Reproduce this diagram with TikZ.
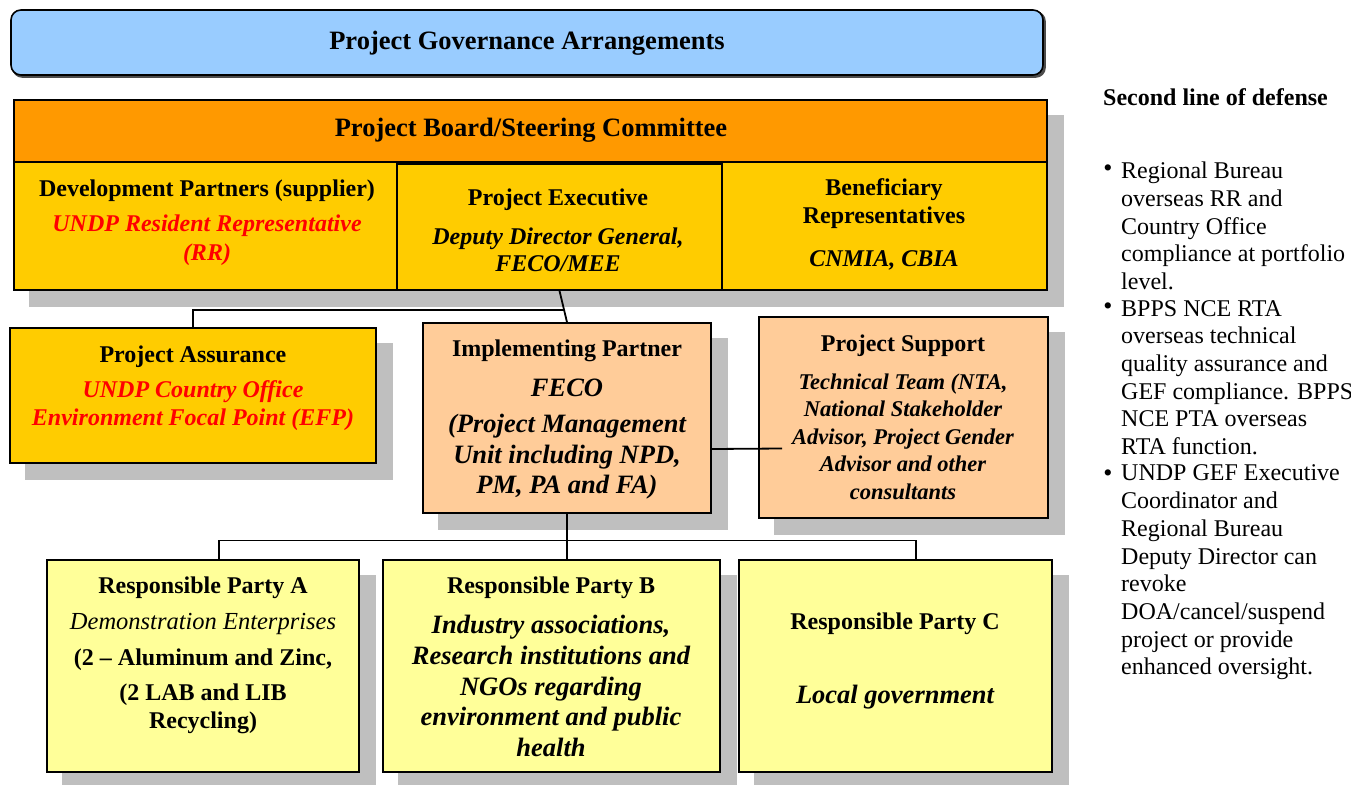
\documentclass[tikz,border=0pt]{standalone}
\usepackage{fontspec}
\setmainfont{Liberation Serif}
\usetikzlibrary{calc}
\definecolor{tblue}{HTML}{99CCFF}
\definecolor{borange}{HTML}{FF9900}
\definecolor{gold}{HTML}{FFCC00}
\definecolor{peach}{HTML}{FFCC99}
\definecolor{lyellow}{HTML}{FFFF99}
\definecolor{shadowgray}{HTML}{BFBFBF}
\definecolor{redtxt}{HTML}{FF0000}
\pgfdeclarelayer{bg}
\pgfsetlayers{bg,main}
\begin{document}
\begin{tikzpicture}[x=1pt,y=-1pt,
  box/.style={draw=black, line width=1.6pt, inner sep=0pt},
  conn/.style={draw=black, line width=1.8pt},
  txt/.style={inner sep=0pt, yshift=-2.5pt},
  hd/.style={txt, font=\fontsize{24}{28}\selectfont\bfseries, align=center},
  bi/.style={txt, font=\fontsize{24}{28}\selectfont\bfseries\itshape, align=center},
  rbi/.style={bi, text=redtxt},
  plain/.style={txt, font=\fontsize{24}{27.7}\selectfont, align=left, anchor=west},
  bul/.style={txt, font=\fontsize{26}{28}\selectfont},
  boxshadow/.style={fill=shadowgray},
]
\useasboundingbox (0,0) rectangle (1351,784);

% ---- boxes
\node[box, fill=tblue, rounded corners=10pt, minimum width=1032pt, minimum height=65pt] (title) at (527,42.5) {};
\node[box, fill=borange, minimum width=1033pt, minimum height=62pt] (board) at (530.5,131) {};
\node[box, fill=gold, minimum width=383pt, minimum height=128pt] (dev) at (205.5,226) {};
\node[box, fill=gold, minimum width=325pt, minimum height=128pt] (ben) at (884.5,226) {};
\node[box, fill=gold, minimum width=325pt, minimum height=126pt] (exec) at (559.5,227) {};
\node[box, fill=gold, minimum width=366pt, minimum height=135pt] (assur) at (193,395.5) {};
\node[box, fill=peach, minimum width=288pt, minimum height=190pt] (ip) at (567,418) {};
\node[box, fill=peach, minimum width=289pt, minimum height=201pt] (ps) at (903.5,417.5) {};
\node[box, fill=lyellow, minimum width=312pt, minimum height=212pt] (rpa) at (203,666) {};
\node[box, fill=lyellow, minimum width=337pt, minimum height=212pt] (rpb) at (551.5,666) {};
\node[box, fill=lyellow, minimum width=313pt, minimum height=212pt] (rpc) at (895.5,666) {};

% ---- background and shadows
\begin{pgfonlayer}{bg}
  \fill[white] (0,0) rectangle (1351,784);
  \fill[black!70, rounded corners=10pt] ([shift={(2,2)}]title.north west) rectangle ([shift={(2,2)}]title.south east);
  \foreach \n in {board,dev,ben,exec,assur,ip,ps,rpa,rpb,rpc}{
    \path[boxshadow] ([shift={(16,16)}]\n.north west) rectangle ([shift={(16,16)}]\n.south east);
  }
\end{pgfonlayer}

% ---- texts
\node[txt, font=\fontsize{26.5}{30}\selectfont\bfseries] (ttitle) at (527,41) {Project Governance Arrangements};
\node[txt, font=\fontsize{26.5}{30}\selectfont\bfseries] (tboard) at (531,128) {Project Board/Steering Committee};

\node[hd] (tdev) at (207,188) {Development Partners (supplier)};
\node[rbi, font=\fontsize{24}{29}\selectfont\bfseries\itshape] (tdevb) at (207,237.5) {UNDP Resident Representative\\(RR)};

\node[hd] (texec) at (558,197) {Project Executive};
\node[bi, font=\fontsize{24}{27}\selectfont\bfseries\itshape] (texecb) at (558,247.5) {Deputy Director General,\\FECO/MEE};

\node[hd] (tben) at (884,201) {Beneficiary\\Representatives};
\node[bi] (tbenb) at (884,258) {CNMIA, CBIA};

\node[hd] (tassur) at (193,354) {Project Assurance};
\node[rbi] (tassurb) at (193,403) {UNDP Country Office\\Environment Focal Point (EFP)};

\node[hd] (tip) at (567,348) {Implementing Partner};
\node[bi, font=\fontsize{26.5}{30.5}\selectfont\bfseries\itshape] (tipf) at (567,385) {FECO};
\node[bi, font=\fontsize{26.5}{30.5}\selectfont\bfseries\itshape] (tipb) at (567,454.5) {(Project Management\\Unit including NPD,\\PM, PA and FA)};

\node[hd] (tps) at (903,343) {Project Support};
\node[bi, font=\fontsize{22.5}{27.5}\selectfont\bfseries\itshape] (tpsb) at (903,434) {Technical Team (NTA,\\National Stakeholder\\Advisor, Project Gender\\Advisor and other\\consultants};

\node[hd] (trpa) at (203,585) {Responsible Party A};
\node[txt, font=\fontsize{24.5}{28}\selectfont\itshape] (trpai) at (203,621) {Demonstration Enterprises};
\node[hd] (trpa2) at (203,657) {(2 – Aluminum and Zinc,};
\node[hd] (trpa3) at (203,706) {(2 LAB and LIB\\Recycling)};

\node[hd] (trpb) at (551,585) {Responsible Party B};
\node[bi, font=\fontsize{26.5}{30.8}\selectfont\bfseries\itshape] (trpbb) at (551,683.5) {Industry associations,\\Research institutions and\\NGOs regarding\\environment and public\\health};

\node[hd] (trpc) at (895,621) {Responsible Party C};
\node[bi, font=\fontsize{26.5}{30}\selectfont\bfseries\itshape] (trpcb) at (895,695) {Local government};

% ---- right panel
\node[hd, anchor=west] (sld) at (1103,95) {Second line of defense};
\node[bul] (bu1) at (1108,168) {•};
\node[bul] (bu2) at (1108,306) {•};
\node[bul] (bu3) at (1108,473) {•};
\node[plain] (it1) at (1121,223.5) {Regional Bureau\\overseas RR and\\Country Office\\compliance at portfolio\\level.};
\node[plain] (it2) at (1121,375) {BPPS NCE RTA\\overseas technical\\quality assurance and\\GEF compliance. BPPS\\NCE PTA overseas\\RTA function.};
\node[plain] (it3) at (1121,570) {UNDP GEF Executive\\Coordinator and\\Regional Bureau\\Deputy Director can\\revoke\\DOA/cancel/suspend\\project or provide\\enhanced oversight.};

% ---- connectors
\draw[conn] (exec.south) -- (ip.north);
\coordinate (j1) at ($(exec.south)!0.62!(ip.north)$);
\draw[conn] (j1) -| (assur.north);
\coordinate (j2) at ($(ip.south)!0.5!(ip.south |- rpb.north)$);
\draw[conn] (ip.south) -- (ip.south |- rpb.north);
\draw[conn] ([xshift=16pt]rpa.north) |- ([yshift=-4pt]j2) -| ([xshift=20.5pt]rpc.north);
\coordinate (psend) at ([xshift=24pt,yshift=-31pt]ps.west);
\draw[conn] ([yshift=-31pt]ip.east) -- (psend);
\end{tikzpicture}
\end{document}
